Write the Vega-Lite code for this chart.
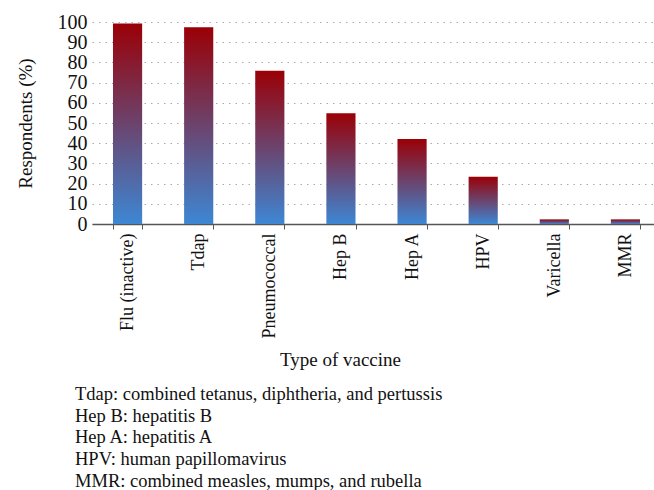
{
  "$schema": "https://vega.github.io/schema/vega-lite/v6.json",
  "autosize": "none",
  "padding": {"left": 92, "top": 22, "right": 0, "bottom": 266},
  "width": 569,
  "height": 202,
  "background": "white",
  "data": {
    "values": [
      {"vaccine": "Flu (inactive)", "pct": 99.3},
      {"vaccine": "Tdap", "pct": 97.4},
      {"vaccine": "Pneumococcal", "pct": 75.9},
      {"vaccine": "Hep B", "pct": 54.8},
      {"vaccine": "Hep A", "pct": 42.1},
      {"vaccine": "HPV", "pct": 23.4},
      {"vaccine": "Varicella", "pct": 2.3},
      {"vaccine": "MMR", "pct": 2.3}
    ]
  },
  "title": {
    "text": [
      "Tdap: combined tetanus, diphtheria, and pertussis",
      "Hep B: hepatitis B",
      "Hep A: hepatitis A",
      "HPV: human papillomavirus",
      "MMR: combined measles, mumps, and rubella"
    ],
    "orient": "bottom",
    "anchor": "start",
    "frame": "group",
    "dx": -17,
    "offset": 15,
    "font": "Liberation Serif",
    "fontSize": 18.5,
    "fontWeight": "normal",
    "lineHeight": 21.7,
    "color": "#111"
  },
  "mark": {
    "type": "bar",
    "color": {
      "gradient": "linear",
      "x1": 0, "y1": 1, "x2": 0, "y2": 0,
      "stops": [
        {"offset": 0, "color": "#3d87d4"},
        {"offset": 1, "color": "#9a0006"}
      ]
    }
  },
  "encoding": {
    "x": {
      "field": "vaccine",
      "type": "nominal",
      "sort": null,
      "scale": {"paddingInner": 0.59, "paddingOuter": 0.295},
      "axis": {
        "title": "Type of vaccine",
        "titleFont": "Liberation Serif",
        "titleFontSize": 19,
        "titleFontWeight": "normal",
        "titleColor": "#111",
        "titleX": 248,
        "titlePadding": 13,
        "labelAngle": -90,
        "labelFont": "Liberation Serif",
        "labelFontSize": 18,
        "labelColor": "#111",
        "labelPadding": 4,
        "tickBand": "extent",
        "tickSize": 5,
        "tickColor": "#555",
        "domainColor": "#555",
        "domainWidth": 1.5,
        "grid": false
      }
    },
    "y": {
      "field": "pct",
      "type": "quantitative",
      "scale": {"domain": [0, 100], "nice": false},
      "axis": {
        "title": "Respondents (%)",
        "titleFont": "Liberation Serif",
        "titleFontSize": 19,
        "titleFontWeight": "normal",
        "titleColor": "#111",
        "titlePadding": 22,
        "values": [0, 10, 20, 30, 40, 50, 60, 70, 80, 90, 100],
        "labelFont": "Liberation Serif",
        "labelFontSize": 20,
        "labelColor": "#111",
        "labelPadding": 5,
        "ticks": false,
        "domain": false,
        "grid": true,
        "gridColor": "#aaa",
        "gridDash": [1.5, 5],
        "gridWidth": 1
      }
    }
  },
  "config": {"view": {"stroke": null}}
}
